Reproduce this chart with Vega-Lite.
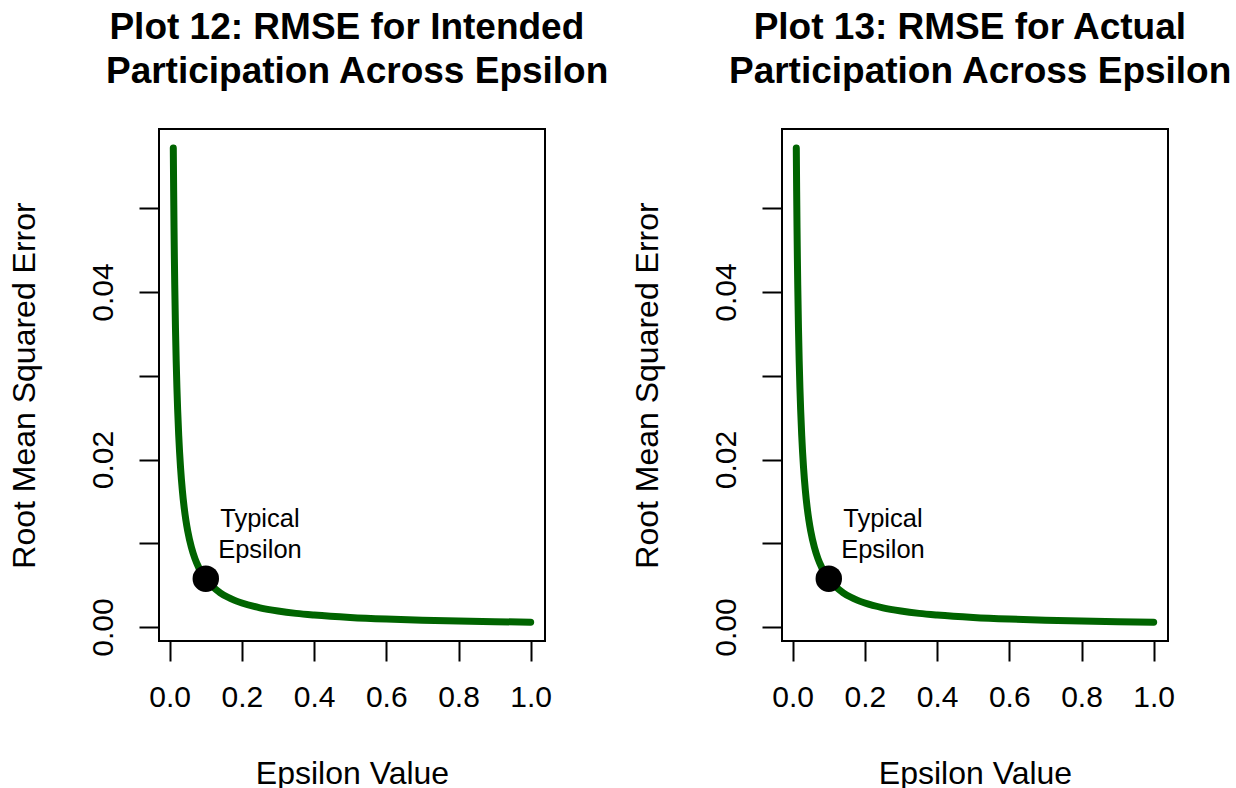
{
  "$schema": "https://vega.github.io/schema/vega-lite/v6.json",
  "background": "white",
  "padding": {"left": 6, "top": 8, "right": 5, "bottom": 5},
  "bounds": "flush",
  "spacing": 237,
  "datasets": {
    "curve": [
      {"eps": 0.01, "rmse": 0.0572},
      {"eps": 0.011, "rmse": 0.052},
      {"eps": 0.012, "rmse": 0.04767},
      {"eps": 0.013, "rmse": 0.044},
      {"eps": 0.014, "rmse": 0.04086},
      {"eps": 0.016, "rmse": 0.03575},
      {"eps": 0.018, "rmse": 0.03178},
      {"eps": 0.02, "rmse": 0.0286},
      {"eps": 0.022, "rmse": 0.026},
      {"eps": 0.025, "rmse": 0.02288},
      {"eps": 0.03, "rmse": 0.01907},
      {"eps": 0.035, "rmse": 0.01634},
      {"eps": 0.04, "rmse": 0.0143},
      {"eps": 0.045, "rmse": 0.01271},
      {"eps": 0.05, "rmse": 0.01144},
      {"eps": 0.06, "rmse": 0.00953},
      {"eps": 0.07, "rmse": 0.00817},
      {"eps": 0.08, "rmse": 0.00715},
      {"eps": 0.09, "rmse": 0.00636},
      {"eps": 0.1, "rmse": 0.00572},
      {"eps": 0.12, "rmse": 0.00477},
      {"eps": 0.14, "rmse": 0.00409},
      {"eps": 0.16, "rmse": 0.00358},
      {"eps": 0.18, "rmse": 0.00318},
      {"eps": 0.2, "rmse": 0.00286},
      {"eps": 0.25, "rmse": 0.00229},
      {"eps": 0.3, "rmse": 0.00191},
      {"eps": 0.35, "rmse": 0.00163},
      {"eps": 0.4, "rmse": 0.00143},
      {"eps": 0.5, "rmse": 0.00114},
      {"eps": 0.6, "rmse": 0.00095},
      {"eps": 0.7, "rmse": 0.00082},
      {"eps": 0.8, "rmse": 0.00072},
      {"eps": 0.9, "rmse": 0.00064},
      {"eps": 1.0, "rmse": 0.00057}
    ],
    "typical": [{"eps": 0.1, "rmse": 0.00577}],
    "note": [{"eps": 0.25, "rmse": 0.0129, "txt": "Typical\nEpsilon"}]
  },
  "config": {
    "font": "Liberation Sans",
    "view": {"stroke": "black", "strokeWidth": 2},
    "title": {"font": "Liberation Sans", "fontSize": 37, "fontWeight": "bold", "color": "black", "anchor": "middle", "lineHeight": 43.5, "offset": 38.5},
    "axis": {
      "domain": false, "grid": false,
      "tickSize": 20, "tickWidth": 2, "tickColor": "black",
      "labelFont": "Liberation Sans", "labelFontSize": 30, "labelColor": "black",
      "titleFont": "Liberation Sans", "titleFontSize": 32, "titleFontWeight": "normal", "titleColor": "black"
    }
  },
  "hconcat": [
    {
      "width": 386, "height": 512,
      "title": {"text": ["Plot 12: RMSE for Intended\u00a0\u200b", "\u200b\u00a0Participation Across Epsilon"]},
      "layer": [
        {
          "data": {"name": "curve"},
          "mark": {"type": "line", "color": "#006400", "strokeWidth": 7, "strokeCap": "round", "interpolate": "monotone"},
          "encoding": {
            "x": {"field": "eps", "type": "quantitative", "scale": {"domain": [-0.0296, 1.0396], "nice": false, "zero": false},
                  "axis": {"title": "Epsilon Value", "values": [0, 0.2, 0.4, 0.6, 0.8, 1.0], "format": ".1f", "labelBaseline": "alphabetic", "labelPadding": 45, "titlePadding": 46}},
            "y": {"field": "rmse", "type": "quantitative", "scale": {"domain": [-0.00167, 0.05946], "nice": false, "zero": false},
                  "axis": {"title": "Root Mean Squared Error", "values": [0, 0.01, 0.02, 0.03, 0.04, 0.05], "format": ".2f",
                           "labelExpr": "indexof(['0.00','0.02','0.04'], datum.label) >= 0 ? datum.label : ''",
                           "labelAngle": -90, "labelAlign": "center", "labelBaseline": "alphabetic", "labelPadding": 27, "titlePadding": 47}}
          }
        },
        {
          "data": {"name": "typical"},
          "mark": {"type": "point", "filled": true, "color": "black", "size": 700, "opacity": 1},
          "encoding": {"x": {"field": "eps", "type": "quantitative"}, "y": {"field": "rmse", "type": "quantitative"}}
        },
        {
          "data": {"name": "note"},
          "mark": {"type": "text", "fontSize": 25.5, "color": "black", "align": "center", "baseline": "middle", "lineBreak": "\n", "lineHeight": 31},
          "encoding": {"x": {"field": "eps", "type": "quantitative"}, "y": {"field": "rmse", "type": "quantitative"}, "text": {"field": "txt"}}
        }
      ]
    },
    {
      "width": 386, "height": 512,
      "title": {"text": ["Plot 13: RMSE for Actual\u00a0\u200b", "\u200b\u00a0Participation Across Epsilon"]},
      "layer": [
        {
          "data": {"name": "curve"},
          "mark": {"type": "line", "color": "#006400", "strokeWidth": 7, "strokeCap": "round", "interpolate": "monotone"},
          "encoding": {
            "x": {"field": "eps", "type": "quantitative", "scale": {"domain": [-0.0296, 1.0396], "nice": false, "zero": false},
                  "axis": {"title": "Epsilon Value", "values": [0, 0.2, 0.4, 0.6, 0.8, 1.0], "format": ".1f", "labelBaseline": "alphabetic", "labelPadding": 45, "titlePadding": 46}},
            "y": {"field": "rmse", "type": "quantitative", "scale": {"domain": [-0.00167, 0.05946], "nice": false, "zero": false},
                  "axis": {"title": "Root Mean Squared Error", "values": [0, 0.01, 0.02, 0.03, 0.04, 0.05], "format": ".2f",
                           "labelExpr": "indexof(['0.00','0.02','0.04'], datum.label) >= 0 ? datum.label : ''",
                           "labelAngle": -90, "labelAlign": "center", "labelBaseline": "alphabetic", "labelPadding": 27, "titlePadding": 47}}
          }
        },
        {
          "data": {"name": "typical"},
          "mark": {"type": "point", "filled": true, "color": "black", "size": 700, "opacity": 1},
          "encoding": {"x": {"field": "eps", "type": "quantitative"}, "y": {"field": "rmse", "type": "quantitative"}}
        },
        {
          "data": {"name": "note"},
          "mark": {"type": "text", "fontSize": 25.5, "color": "black", "align": "center", "baseline": "middle", "lineBreak": "\n", "lineHeight": 31},
          "encoding": {"x": {"field": "eps", "type": "quantitative"}, "y": {"field": "rmse", "type": "quantitative"}, "text": {"field": "txt"}}
        }
      ]
    }
  ]
}
